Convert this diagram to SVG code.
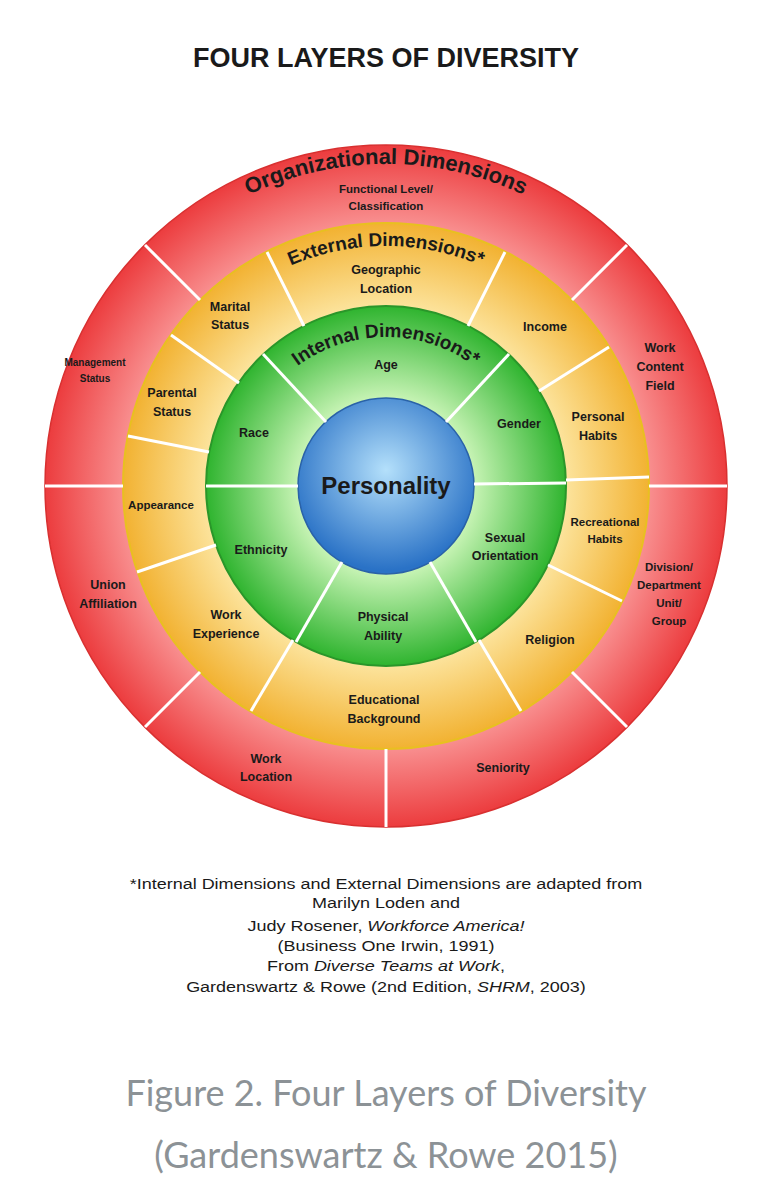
<svg xmlns="http://www.w3.org/2000/svg" width="769" height="1200" viewBox="0 0 769 1200">
<defs>
<radialGradient id="gr" gradientUnits="userSpaceOnUse" cx="386" cy="486" r="341"><stop offset="0.74" stop-color="#fa9a9a"/><stop offset="1" stop-color="#ec3c3e"/></radialGradient>
<radialGradient id="gy" gradientUnits="userSpaceOnUse" cx="386" cy="486" r="263"><stop offset="0.66" stop-color="#fde7a4"/><stop offset="1" stop-color="#f2b232"/></radialGradient>
<radialGradient id="gg" gradientUnits="userSpaceOnUse" cx="386" cy="486" r="180"><stop offset="0.45" stop-color="#d2f8be"/><stop offset="1" stop-color="#2fb42f"/></radialGradient>
<radialGradient id="gb" gradientUnits="userSpaceOnUse" cx="386" cy="470" r="100"><stop offset="0" stop-color="#b4e0fb"/><stop offset="1" stop-color="#2a72c6"/></radialGradient>
<path id="aO" d="M64,486 A322,322 0 0 1 708,486"/>
<path id="aE" d="M146,486 A240,240 0 0 1 626,486"/>
<path id="aI" d="M237,486 A149,149 0 0 1 535,486"/>
</defs>
<style>
text{font-family:"Liberation Sans",Arial,sans-serif;fill:#1a1a1a;text-anchor:middle}
.l{font-size:12.5px;font-weight:bold}
.s{font-size:11.5px;font-weight:bold}
.t{font-size:10px;font-weight:bold}
.h{font-size:22px;font-weight:bold}
.hs{font-size:19px;font-weight:bold}
.div line{stroke:#fff;stroke-width:3}
.f{font-size:15px}
.c{font-family:Lato,"Liberation Sans",sans-serif;font-size:36px;fill:#8c9296}
</style>
<rect width="769" height="1200" fill="#fff"/>
<text x="386" y="67" style="font-size:27px;font-weight:bold">FOUR LAYERS OF DIVERSITY</text>
<g id="rings">
<circle cx="386" cy="486" r="341" fill="url(#gr)" stroke="#d83030" stroke-width="1.5"/>
<circle cx="386" cy="486" r="263" fill="url(#gy)" stroke="#e8c020" stroke-width="2"/>
<circle cx="386" cy="486" r="180" fill="url(#gg)" stroke="#2a962a" stroke-width="2"/>
<circle cx="386" cy="486" r="88" fill="url(#gb)" stroke="#2a62a8" stroke-width="1.5"/>
</g>
<g class="div" id="connectors">
<line x1="572" y1="300" x2="627" y2="245"/><line x1="200" y1="300" x2="145" y2="245"/>
<line x1="649" y1="486" x2="727" y2="486"/><line x1="123" y1="486" x2="45" y2="486"/>
<line x1="200" y1="672" x2="145" y2="727"/><line x1="572" y1="672" x2="627" y2="727"/>
<line x1="386" y1="749" x2="386" y2="827"/>
<line x1="304" y1="326" x2="267" y2="252"/><line x1="468" y1="326" x2="505" y2="252"/>
<line x1="539" y1="391" x2="609" y2="347"/><line x1="566" y1="480" x2="649" y2="477"/>
<line x1="548" y1="565" x2="622" y2="601"/><line x1="479" y1="640" x2="521" y2="711"/>
<line x1="293" y1="640" x2="251" y2="711"/><line x1="216" y1="545" x2="137" y2="572"/>
<line x1="209" y1="452" x2="128" y2="436"/><line x1="239" y1="383" x2="171" y2="335"/>
<line x1="326" y1="422" x2="263" y2="354"/><line x1="446" y1="422" x2="509" y2="354"/>
<line x1="474" y1="484" x2="566" y2="483"/><line x1="430" y1="562" x2="476" y2="642"/>
<line x1="342" y1="562" x2="296" y2="642"/><line x1="298" y1="486" x2="206" y2="486"/>
</g>
<g id="titles">
<text class="h"><textPath href="#aO" startOffset="50%">Organizational Dimensions</textPath></text>
<text class="hs"><textPath href="#aE" startOffset="50%">External Dimensions*</textPath></text>
<text class="hs"><textPath href="#aI" startOffset="50%">Internal Dimensions*</textPath></text>
</g>
<g id="organizational">
<text class="s" x="386" y="193">Functional Level/</text><text class="s" x="386" y="210">Classification</text>
<text class="t" x="95" y="366">Management</text><text class="t" x="95" y="382">Status</text>
<text class="l" x="660" y="352">Work</text><text class="l" x="660" y="371">Content</text><text class="l" x="660" y="390">Field</text>
<text class="l" x="108" y="589">Union</text><text class="l" x="108" y="608">Affiliation</text>
<text class="s" x="669" y="571">Division/</text><text class="s" x="669" y="589">Department</text><text class="s" x="669" y="607">Unit/</text><text class="s" x="669" y="625">Group</text>
<text class="l" x="266" y="763">Work</text><text class="l" x="266" y="781">Location</text>
<text class="l" x="503" y="772">Seniority</text>
</g>
<g id="external">
<text class="l" x="386" y="274">Geographic</text><text class="l" x="386" y="293">Location</text>
<text class="l" x="230" y="311">Marital</text><text class="l" x="230" y="329">Status</text>
<text class="l" x="545" y="331">Income</text>
<text class="l" x="172" y="397">Parental</text><text class="l" x="172" y="416">Status</text>
<text class="l" x="598" y="421">Personal</text><text class="l" x="598" y="440">Habits</text>
<text class="s" x="161" y="509">Appearance</text>
<text class="s" x="605" y="526">Recreational</text><text class="s" x="605" y="543">Habits</text>
<text class="l" x="226" y="619">Work</text><text class="l" x="226" y="638">Experience</text>
<text class="l" x="550" y="644">Religion</text>
<text class="l" x="384" y="704">Educational</text><text class="l" x="384" y="723">Background</text>
</g>
<g id="internal">
<text class="l" x="386" y="369">Age</text>
<text class="l" x="254" y="437">Race</text>
<text class="l" x="519" y="428">Gender</text>
<text class="l" x="505" y="542">Sexual</text><text class="l" x="505" y="560">Orientation</text>
<text class="l" x="261" y="554">Ethnicity</text>
<text class="l" x="383" y="621">Physical</text><text class="l" x="383" y="640">Ability</text>
</g>
<g id="personality"><text x="386" y="494" style="font-size:24px;font-weight:bold">Personality</text></g>
<g id="footer">
<g transform="translate(386,0) scale(1.2,1) translate(-386,0)">
<text class="f" x="386" y="889">*Internal Dimensions and External Dimensions are adapted from</text>
<text class="f" x="386" y="908">Marilyn Loden and</text>
<text class="f" x="386" y="931">Judy Rosener, <tspan font-style="italic">Workforce America!</tspan></text>
<text class="f" x="386" y="951">(Business One Irwin, 1991)</text>
<text class="f" x="386" y="971">From <tspan font-style="italic">Diverse Teams at Work</tspan>,</text>
<text class="f" x="386" y="992">Gardenswartz &amp; Rowe (2nd Edition, <tspan font-style="italic">SHRM</tspan>, 2003)</text>
</g>
<text class="c" x="386" y="1106">Figure 2. Four Layers of Diversity</text>
<text class="c" x="386" y="1168">(Gardenswartz &amp; Rowe 2015)</text>
</g>
</svg>
